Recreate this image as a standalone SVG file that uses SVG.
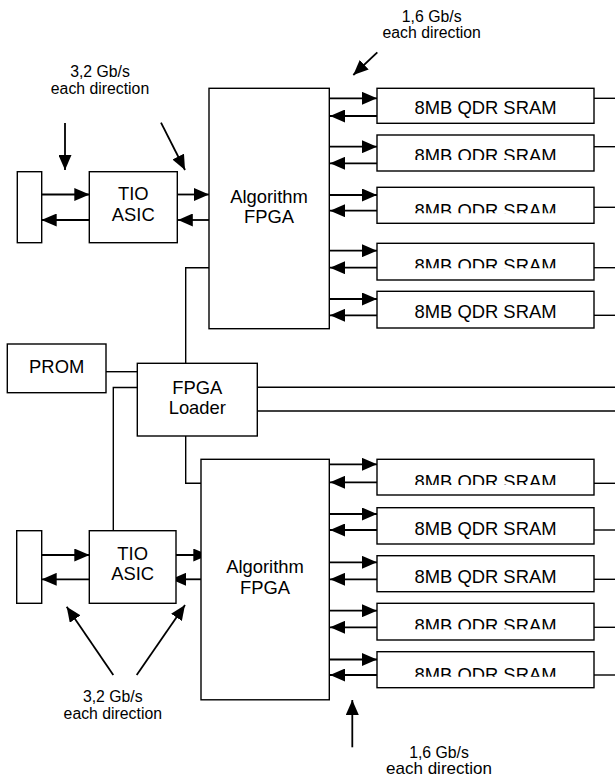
<svg xmlns="http://www.w3.org/2000/svg" width="615" height="780" viewBox="0 0 615 780">
<style>
.box{fill:#fff;stroke:#000;stroke-width:1.4}
.ln{fill:none;stroke:#000;stroke-width:1.4}
.ar{fill:none;stroke:#000;stroke-width:1.8;marker-end:url(#ah)}
.t{font-family:"Liberation Sans",Arial,sans-serif;font-size:18.4px;text-anchor:middle;fill:#000}
.lb{font-family:"Liberation Sans",Arial,sans-serif;font-size:15.8px;text-anchor:middle;fill:#000}
</style>
<defs>
<marker id="ah" markerUnits="userSpaceOnUse" markerWidth="15" markerHeight="13" refX="15" refY="6.5" orient="auto"><path d="M0,0 L15,6.5 L0,13 Z" fill="#000"/></marker>
<clipPath id="c2"><rect x="377" y="130" width="217" height="30"/></clipPath>
<clipPath id="c3"><rect x="377" y="185" width="217" height="28.3"/></clipPath>
<clipPath id="c4"><rect x="377" y="240" width="217" height="28.3"/></clipPath>
<clipPath id="c6"><rect x="377" y="455" width="217" height="30"/></clipPath>
<clipPath id="c9"><rect x="377" y="600" width="217" height="29.3"/></clipPath>
<clipPath id="c10"><rect x="377" y="650" width="217" height="26.7"/></clipPath>
</defs>

<g id="connectors">
<line class="ar" x1="41.7" y1="194.5" x2="89.3" y2="194.5"/>
<line class="ar" x1="89.3" y1="220" x2="41.7" y2="220"/>
<line class="ar" x1="177.3" y1="194.5" x2="209" y2="194.5"/>
<line class="ar" x1="209" y1="220" x2="177.8" y2="220"/>
<line class="ar" x1="329.3" y1="98.3" x2="377" y2="98.3"/>
<line class="ar" x1="377" y1="116" x2="330" y2="116"/>
<line class="ar" x1="329.3" y1="146.7" x2="377" y2="146.7"/>
<line class="ar" x1="377" y1="163.3" x2="330" y2="163.3"/>
<line class="ar" x1="329.3" y1="195" x2="377" y2="195"/>
<line class="ar" x1="377" y1="210.7" x2="330" y2="210.7"/>
<line class="ar" x1="329.3" y1="250.7" x2="377" y2="250.7"/>
<line class="ar" x1="377" y1="267.7" x2="330" y2="267.7"/>
<line class="ar" x1="329.3" y1="299" x2="377" y2="299"/>
<line class="ar" x1="377" y1="315.3" x2="330" y2="315.3"/>
<line class="ln" x1="594" y1="98.3" x2="615" y2="98.3"/>
<line class="ln" x1="594" y1="146.7" x2="615" y2="146.7"/>
<line class="ln" x1="594" y1="207.3" x2="615" y2="207.3"/>
<line class="ln" x1="594" y1="267.7" x2="615" y2="267.7"/>
<line class="ln" x1="594" y1="315.3" x2="615" y2="315.3"/>
<line class="ln" x1="106" y1="371.7" x2="137.3" y2="371.7"/>
<polyline class="ln" points="137.3,387.5 113.3,387.5 113.3,531"/>
<polyline class="ln" points="185.7,363.3 185.7,267.7 209,267.7"/>
<polyline class="ln" points="185.7,436 185.7,483.3 201,483.3"/>
<line class="ln" x1="257.3" y1="387.3" x2="615" y2="387.3"/>
<line class="ln" x1="257.3" y1="411" x2="615" y2="411"/>
<line class="ar" x1="41.7" y1="555" x2="89.3" y2="555"/>
<line class="ar" x1="89.3" y1="579.3" x2="41.7" y2="579.3"/>
<line class="ar" x1="176" y1="555" x2="208.3" y2="555"/>
<line class="ar" x1="201" y1="579.3" x2="171" y2="579.3"/>
<line class="ar" x1="329.3" y1="464.3" x2="377" y2="464.3"/>
<line class="ar" x1="377" y1="482.3" x2="330" y2="482.3"/>
<line class="ar" x1="329.3" y1="514" x2="377" y2="514"/>
<line class="ar" x1="377" y1="530" x2="330" y2="530"/>
<line class="ar" x1="329.3" y1="562.3" x2="377" y2="562.3"/>
<line class="ar" x1="377" y1="579.3" x2="330" y2="579.3"/>
<line class="ar" x1="329.3" y1="610.7" x2="377" y2="610.7"/>
<line class="ar" x1="377" y1="627.3" x2="330" y2="627.3"/>
<line class="ar" x1="329.3" y1="659.5" x2="377" y2="659.5"/>
<line class="ar" x1="377" y1="675" x2="330" y2="675"/>
<line class="ln" x1="594" y1="483.3" x2="615" y2="483.3"/>
<line class="ln" x1="594" y1="530" x2="615" y2="530"/>
<line class="ln" x1="594" y1="579.3" x2="615" y2="579.3"/>
<line class="ln" x1="594" y1="627.3" x2="615" y2="627.3"/>
<line class="ln" x1="594" y1="675" x2="615" y2="675"/>
<line class="ar" x1="65" y1="123" x2="65" y2="170"/>
<line class="ar" x1="161" y1="122.7" x2="185" y2="170"/>
<line class="ar" x1="377.3" y1="52.3" x2="353.3" y2="75"/>
<line class="ar" x1="113.3" y1="675" x2="66.7" y2="606.7"/>
<line class="ar" x1="136.7" y1="675" x2="185" y2="605"/>
<line class="ar" x1="352.3" y1="747.3" x2="352.3" y2="700"/>
</g>

<g id="port-top"><rect class="box" x="17.3" y="171.7" width="24.4" height="71"/></g>
<g id="tio-top"><rect class="box" x="89.3" y="171.7" width="88" height="71"/>
<text class="t" x="133.3" y="200.4">TIO</text><text class="t" x="133.3" y="221">ASIC</text></g>
<g id="fpga-top"><rect class="box" x="209" y="88.3" width="120.3" height="240.4"/>
<text class="t" x="269" y="202.6">Algorithm</text><text class="t" x="269" y="222.6">FPGA</text></g>

<g id="sram-t1"><rect class="box" x="377" y="88.3" width="217" height="35"/><text class="t" x="485.5" y="113.9">8MB QDR SRAM</text></g>
<g id="sram-t2"><rect class="box" x="377" y="135" width="217" height="36"/><text class="t" x="485.5" y="162.2" clip-path="url(#c2)">8MB QDR SRAM</text></g>
<g id="sram-t3"><rect class="box" x="377" y="187.3" width="217" height="36"/><text class="t" x="485.5" y="217.2" clip-path="url(#c3)">8MB QDR SRAM</text></g>
<g id="sram-t4"><rect class="box" x="377" y="243.3" width="217" height="36.7"/><text class="t" x="485.5" y="271.5" clip-path="url(#c4)">8MB QDR SRAM</text></g>
<g id="sram-t5"><rect class="box" x="377" y="291.3" width="217" height="36.7"/><text class="t" x="485.5" y="318.2">8MB QDR SRAM</text></g>

<g id="prom"><rect class="box" x="7.3" y="344" width="98.7" height="48.7"/><text class="t" x="56.7" y="373.4">PROM</text></g>
<g id="loader"><rect class="box" x="137.3" y="363.3" width="120" height="72.7"/>
<text class="t" x="197.3" y="393.8">FPGA</text><text class="t" x="197.3" y="414">Loader</text></g>

<g id="port-bottom"><rect class="box" x="16.7" y="530.7" width="25" height="72.6"/></g>
<g id="tio-bottom"><rect class="box" x="89.3" y="530.7" width="86.7" height="72.6"/>
<text class="t" x="132.7" y="560">TIO</text><text class="t" x="132.7" y="580.4">ASIC</text></g>
<g id="fpga-bottom"><rect class="box" x="201" y="459.3" width="128.3" height="240.5"/>
<text class="t" x="265" y="573.4">Algorithm</text><text class="t" x="265" y="594.4">FPGA</text></g>

<g id="sram-b1"><rect class="box" x="377" y="459.3" width="217" height="35.7"/><text class="t" x="485.5" y="488.2" clip-path="url(#c6)">8MB QDR SRAM</text></g>
<g id="sram-b2"><rect class="box" x="377" y="507.7" width="217" height="36.3"/><text class="t" x="485.5" y="534.9">8MB QDR SRAM</text></g>
<g id="sram-b3"><rect class="box" x="377" y="555.7" width="217" height="36"/><text class="t" x="485.5" y="582.5">8MB QDR SRAM</text></g>
<g id="sram-b4"><rect class="box" x="377" y="603.3" width="217" height="36.7"/><text class="t" x="485.5" y="631.5" clip-path="url(#c9)">8MB QDR SRAM</text></g>
<g id="sram-b5"><rect class="box" x="377" y="651.7" width="217" height="36"/><text class="t" x="485.5" y="680.5" clip-path="url(#c10)">8MB QDR SRAM</text></g>

<g id="labels">
<text class="lb" x="100" y="77.3">3,2 Gb/s</text><text class="lb" x="100" y="94.3">each direction</text>
<text class="lb" x="431.7" y="21.5">1,6 Gb/s</text><text class="lb" x="431.7" y="38">each direction</text>
<text class="lb" x="112.8" y="701.7">3,2 Gb/s</text><text class="lb" x="112.8" y="719.3">each direction</text>
<text class="lb" x="439" y="757.5">1,6 Gb/s</text><text class="lb" x="439" y="774.3" style="font-size:17px">each direction</text>
</g>
</svg>
